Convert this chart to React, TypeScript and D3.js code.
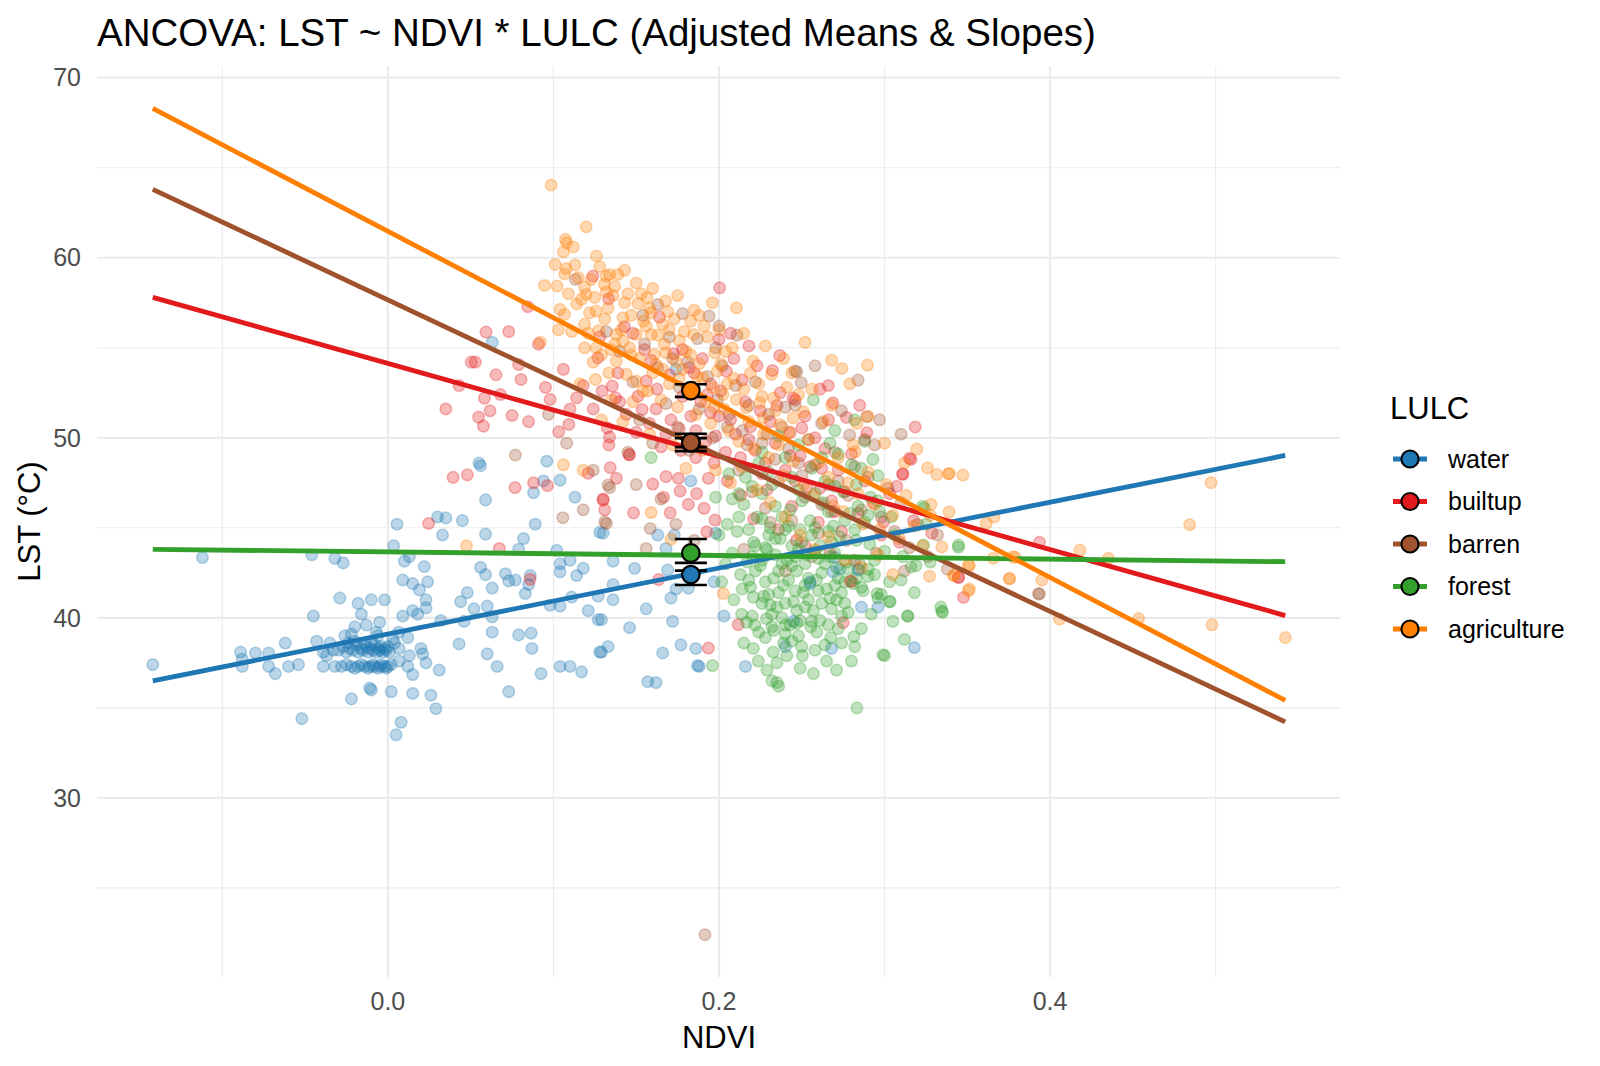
import * as d3 from "d3";

type Pt = [number, number];

// land use classes, in legend / drawing order
const classes = ["water", "builtup", "barren", "forest", "agriculture"];
const classColors = ["#1f78b4", "#e31a1c", "#a0522d", "#33a02c", "#ff7f00"];

// observed pixels: [NDVI, LST]
const waterPts: Pt[] = [
  [-0.142, 37.4], [-0.112, 43.35], [-0.089, 38.1], [-0.088, 37.7], [-0.088, 37.3], [-0.08, 38.05], [-0.072, 38.05], [-0.072, 37.3],
  [-0.068, 36.9], [-0.062, 38.6], [-0.06, 37.3], [-0.054, 37.4], [-0.052, 34.4], [-0.046, 43.5], [-0.045, 40.1], [-0.043, 38.7],
  [-0.039, 38.1], [-0.039, 37.3], [-0.032, 43.3], [-0.032, 37.3], [-0.029, 41.1], [-0.027, 43.05], [-0.022, 35.5], [-0.02, 39.5],
  [-0.018, 40.8], [-0.016, 40.2], [-0.01, 41.0], [-0.01, 36.0], [-0.011, 36.1], [-0.007, 39.2], [-0.005, 39.75], [-0.002, 41.0],
  [-0.022, 39.1], [0.002, 35.9], [0.005, 33.5], [0.008, 34.2], [0.0035, 44.0], [0.0055, 45.2], [0.009, 42.1], [0.01, 43.15],
  [0.013, 43.4], [0.015, 41.9], [0.019, 41.55], [0.022, 42.85], [0.024, 42.0], [0.023, 41.0], [0.023, 40.55], [0.018, 40.2],
  [0.015, 40.4], [0.009, 40.1], [0.0065, 39.2], [0.012, 38.9], [0.0067, 38.3], [0.02, 38.3], [0.021, 38.0], [0.013, 37.9],
  [0.0067, 37.6], [0.012, 37.3], [0.015, 36.85], [0.023, 37.5], [0.031, 37.1], [0.015, 35.8], [0.026, 35.7], [0.029, 34.95],
  [0.032, 39.85], [0.03, 45.6], [0.035, 45.55], [0.033, 44.6], [0.045, 45.4], [0.043, 38.55], [0.044, 40.9], [0.048, 41.4],
  [0.052, 40.5], [0.046, 39.8], [0.059, 46.55], [0.059, 44.65], [0.056, 42.8], [0.059, 42.4], [0.063, 41.65], [0.06, 40.65],
  [0.063, 40.05], [0.063, 39.2], [0.06, 38.0], [0.066, 37.3], [0.073, 35.9], [0.071, 42.45], [0.073, 42.05], [0.077, 42.1],
  [0.082, 44.4], [0.079, 43.8], [0.086, 42.35], [0.085, 41.85], [0.083, 41.35], [0.079, 39.05], [0.0865, 39.15], [0.087, 38.3],
  [0.0925, 36.9], [0.088, 46.95], [0.089, 45.2], [0.104, 37.3], [0.11, 37.3], [0.117, 37.0], [0.102, 43.75], [0.104, 43.0],
  [0.104, 42.55], [0.11, 43.2], [0.114, 42.35], [0.118, 42.75], [0.113, 46.7], [0.104, 47.65], [0.098, 40.7], [0.104, 40.65],
  [0.111, 41.15], [0.121, 40.4], [0.127, 39.9], [0.128, 44.75], [0.127, 41.2], [0.128, 38.1], [0.133, 38.4], [0.056, 48.45],
  [0.096, 48.7], [0.055, 48.6], [0.094, 47.6], [0.063, 55.3], [0.174, 53.8],
  [0.183, 47.6], [0.13, 44.7], [0.136, 43.15], [0.136, 41.85], [0.136, 41.0], [0.149, 42.75], [0.129, 39.9], [0.146, 39.45],
  [0.156, 40.5], [0.129, 38.1], [0.166, 38.05], [0.157, 36.45], [0.162, 36.4], [0.163, 44.6], [0.173, 44.6], [0.168, 43.85],
  [0.169, 42.65], [0.171, 41.1], [0.174, 41.6], [0.172, 39.8], [0.1815, 41.65], [0.186, 38.3], [0.188, 37.3], [0.198, 44.7],
  [0.197, 42.0], [0.203, 40.1], [0.245, 39.8], [0.255, 41.9], [0.268, 38.3], [0.273, 42.7], [0.2845, 42.7], [0.286, 40.6],
  [0.296, 40.6], [0.269, 42.55], [0.284, 42.65], [0.255, 42.0], [0.27, 43.35], [0.318, 38.35], [0.24, 38.4], [0.216, 37.3],
  [0.177, 38.5], [0.187, 37.35],
  [-0.03, 38.2], [-0.027, 38.4], [-0.025, 38.1], [-0.023, 38.3], [-0.021, 38.2], [-0.019, 38.5], [-0.018, 38.1], [-0.016, 38.3],
  [-0.015, 38.2], [-0.013, 38.4], [-0.012, 38.1], [-0.011, 38.3], [-0.009, 38.2], [-0.008, 38.5], [-0.007, 38.1], [-0.006, 38.3],
  [-0.005, 38.2], [-0.004, 38.4], [-0.003, 38.1], [-0.002, 38.3], [-0.001, 38.2], [0.0, 38.4], [0.001, 38.1], [-0.014, 38.6],
  [-0.01, 38.7], [-0.02, 38.7], [-0.024, 38.6],
  [-0.028, 37.3], [-0.025, 37.4], [-0.022, 37.3], [-0.02, 37.2], [-0.018, 37.3], [-0.016, 37.4], [-0.014, 37.3], [-0.012, 37.2],
  [-0.011, 37.3], [-0.009, 37.4], [-0.008, 37.3], [-0.006, 37.2], [-0.005, 37.3], [-0.004, 37.4], [-0.002, 37.3], [-0.001, 37.2],
  [0.0, 37.3], [0.002, 37.4], [-0.035, 38.6], [-0.033, 38.2], [-0.037, 37.9], [0.004, 38.6], [-0.026, 39.0], [-0.013, 39.6],
  [-0.006, 39.0], [0.003, 38.8],
];

const builtupPts: Pt[] = [
  [0.0246, 45.24], [0.0394, 47.8], [0.048, 47.94], [0.0768, 47.23], [0.088, 47.5], [0.0964, 47.34], [0.0673, 43.85], [0.0859, 42.14],
  [0.121, 48.03], [0.13, 46.6], [0.131, 46.0], [0.035, 51.6], [0.0504, 54.2], [0.2004, 58.33], [0.0845, 57.28], [0.0593, 55.87],
  [0.073, 55.9], [0.0528, 54.2], [0.0653, 53.5], [0.0804, 53.24], [0.079, 54.07], [0.0952, 52.8], [0.0583, 52.2], [0.0617, 51.5],
  [0.0548, 51.15], [0.0577, 50.65], [0.075, 51.24], [0.098, 52.13], [0.1032, 50.33], [0.1093, 50.74], [0.114, 52.22], [0.124, 51.6],
  [0.1294, 52.6], [0.1355, 52.87], [0.1268, 54.44], [0.1238, 58.98], [0.1333, 57.72], [0.1429, 56.17], [0.1375, 52.22], [0.14, 52.0],
  [0.1325, 50.55], [0.1339, 50.04], [0.1335, 49.6], [0.1456, 49.07], [0.1536, 51.57], [0.156, 53.15], [0.1625, 52.7], [0.1726, 54.67],
  [0.2, 55.46], [0.2181, 55.1], [0.2367, 54.57], [0.2323, 53.74], [0.2448, 52.2], [0.2044, 53.7], [0.165, 49.5],
  [0.146, 49.05], [0.1343, 48.34], [0.138, 47.75], [0.13, 46.54], [0.1484, 45.83], [0.16, 47.43], [0.168, 47.84], [0.1755, 47.75],
  [0.1665, 46.7], [0.1705, 45.83], [0.1765, 47.04], [0.1815, 46.3], [0.1865, 46.9], [0.191, 46.08], [0.1926, 44.78], [0.1976, 45.43],
  [0.1936, 47.75], [0.1635, 42.12], [0.1936, 38.32], [0.2116, 39.62], [0.275, 39.73], [0.2793, 42.03], [0.311, 47.97], [0.315, 48.86],
  [0.2468, 44.3],
  [0.3185, 50.6], [0.316, 48.8], [0.311, 48.0], [0.3074, 47.3], [0.266, 52.9], [0.261, 52.7], [0.246, 52.1], [0.2688, 51.94],
  [0.2662, 51.0], [0.277, 51.13], [0.285, 51.8], [0.2893, 50.28], [0.288, 49.9], [0.25, 50.55], [0.3175, 45.4], [0.3286, 44.7],
  [0.2994, 45.33], [0.28, 42.03], [0.3447, 42.24], [0.3477, 41.13], [0.3936, 44.19], [0.3446, 42.25],
  [0.15, 50.3], [0.158, 50.8], [0.162, 51.6], [0.168, 50.2], [0.171, 51.0], [0.176, 50.5], [0.178, 52.3], [0.183, 51.2],
  [0.186, 50.4], [0.189, 52.0], [0.192, 49.8], [0.195, 51.4], [0.198, 50.1], [0.201, 52.6], [0.204, 49.2], [0.207, 51.0],
  [0.21, 50.2], [0.213, 48.9], [0.216, 52.0], [0.219, 50.6], [0.222, 49.3], [0.225, 51.5], [0.228, 48.6], [0.231, 50.9],
  [0.234, 49.7], [0.237, 52.5], [0.24, 48.2], [0.243, 50.3], [0.246, 47.6], [0.249, 49.0], [0.252, 51.2], [0.255, 48.4],
  [0.258, 50.0], [0.261, 47.2], [0.264, 49.4], [0.268, 46.5], [0.272, 48.2], [0.276, 47.0], [0.28, 49.1], [0.284, 45.8],
  [0.288, 47.6], [0.293, 46.4], [0.298, 44.6], [0.303, 46.9], [0.309, 44.2], [0.213, 46.8], [0.221, 45.5], [0.229, 47.1],
  [0.236, 44.9], [0.244, 46.2], [0.252, 44.0], [0.26, 45.3], [0.267, 43.6], [0.274, 44.8], [0.282, 43.2], [0.205, 47.6],
  [0.197, 48.6], [0.186, 48.9], [0.177, 49.3], [0.182, 53.9], [0.19, 54.4], [0.207, 55.8], [0.214, 53.2], [0.223, 54.0],
  [0.195, 53.0], [0.17, 53.5], [0.159, 54.3], [0.151, 52.3], [0.144, 51.3], [0.139, 53.6], [0.128, 55.6], [0.118, 52.9],
  [0.11, 51.6], [0.106, 53.8], [0.085, 50.9], [0.091, 55.2], [0.068, 52.4], [0.043, 52.9],
  [0.148, 55.8], [0.155, 54.9], [0.164, 56.7], [0.178, 54.9], [0.185, 53.6], [0.193, 52.4], [0.2, 51.2], [0.209, 54.4],
  [0.218, 49.9], [0.226, 48.0], [0.235, 51.8], [0.243, 49.0], [0.253, 47.2], [0.262, 48.3], [0.27, 45.9],
];

const barrenPts: Pt[] = [
  [0.1133, 58.8], [0.194, 56.76], [0.2109, 55.7], [0.154, 56.8], [0.1319, 55.9], [0.077, 49.04], [0.2458, 53.7], [0.1057, 45.56],
  [0.132, 45.24], [0.133, 47.38], [0.134, 47.23], [0.131, 45.33], [0.1585, 44.96], [0.156, 43.85], [0.247, 53.67], [0.2497, 53.06],
  [0.2893, 51.17], [0.2789, 50.15], [0.393, 41.35], [0.1915, 22.4], [0.3935, 41.32],
  [0.14, 54.8], [0.148, 53.1], [0.155, 55.2], [0.163, 53.9], [0.17, 55.6], [0.176, 52.8], [0.181, 54.2], [0.187, 55.5],
  [0.193, 53.4], [0.199, 52.1], [0.202, 54.0], [0.206, 51.3], [0.21, 52.9], [0.214, 50.4], [0.218, 51.8], [0.222, 53.1],
  [0.226, 49.7], [0.23, 51.3], [0.234, 48.8], [0.238, 50.6], [0.242, 49.4], [0.246, 51.8], [0.25, 47.9], [0.254, 49.9],
  [0.258, 48.5], [0.262, 50.8], [0.266, 47.4], [0.27, 49.2], [0.274, 51.5], [0.278, 46.8], [0.282, 48.4], [0.286, 46.0],
  [0.29, 47.8], [0.294, 49.6], [0.298, 45.6], [0.302, 47.2], [0.306, 44.8], [0.31, 46.4], [0.315, 43.9], [0.32, 45.2],
  [0.326, 43.4], [0.332, 44.6], [0.338, 42.7], [0.212, 48.2], [0.22, 47.0], [0.228, 46.1], [0.236, 47.6], [0.244, 45.4],
  [0.252, 46.7], [0.26, 44.7], [0.268, 45.9], [0.196, 50.0], [0.188, 51.6], [0.182, 49.3], [0.175, 50.6], [0.168, 51.9],
  [0.16, 49.7], [0.152, 51.0], [0.145, 49.2], [0.165, 46.6], [0.174, 45.2], [0.185, 44.3], [0.15, 47.4], [0.124, 48.2],
  [0.118, 46.0], [0.163, 57.4], [0.178, 56.9], [0.2, 56.2], [0.258, 54.0], [0.284, 53.2], [0.297, 51.0], [0.31, 50.2],
  [0.231, 45.3], [0.256, 43.4], [0.277, 44.3], [0.295, 43.6], [0.312, 42.6], [0.24, 42.6], [0.215, 43.8], [0.097, 51.3],
  [0.108, 49.7], [0.172, 54.4], [0.184, 52.8], [0.198, 55.0], [0.205, 50.6], [0.217, 49.6], [0.229, 50.2], [0.24, 51.7],
  [0.248, 48.6], [0.262, 46.3], [0.272, 47.6],
];

const forestPts: Pt[] = [
  [0.159, 48.9], [0.293, 48.8], [0.296, 47.9], [0.323, 46.2], [0.2207, 41.15], [0.226, 40.8], [0.2137, 40.2], [0.2167, 39.75],
  [0.2217, 39.6], [0.2287, 39.95], [0.232, 39.5], [0.24, 39.6], [0.247, 39.7], [0.24, 39.1], [0.249, 39.85], [0.2554, 39.5],
  [0.259, 39.2], [0.261, 39.85], [0.2675, 38.9], [0.274, 40.1], [0.2815, 38.95], [0.282, 38.4], [0.299, 37.95], [0.314, 40.1],
  [0.303, 40.9], [0.303, 42.0], [0.2955, 41.35], [0.287, 41.5], [0.29, 42.3], [0.283, 42.2], [0.271, 41.0], [0.276, 40.8],
  [0.267, 41.1], [0.2207, 38.3], [0.2237, 37.6], [0.2327, 38.1], [0.235, 37.5], [0.25, 38.4], [0.2504, 37.9], [0.271, 37.1],
  [0.232, 36.5], [0.236, 36.2], [0.2833, 35.0], [0.196, 37.35], [0.2016, 42.0], [0.324, 46.1], [0.3235, 44.04], [0.316, 42.83],
  [0.319, 42.9], [0.3276, 43.1], [0.334, 40.6], [0.3346, 40.37], [0.314, 40.1], [0.3034, 40.9], [0.296, 41.1], [0.257, 52.1],
  [0.267, 49.7], [0.283, 47.4], [0.2915, 46.7], [0.3447, 44.04], [0.3446, 43.92], [0.335, 40.3],
  [0.205, 45.2], [0.208, 43.6], [0.211, 44.8], [0.213, 42.4], [0.215, 46.3], [0.217, 43.1], [0.219, 41.7], [0.221, 44.2],
  [0.223, 45.6], [0.225, 42.9], [0.227, 41.2], [0.229, 43.8], [0.231, 45.0], [0.233, 42.2], [0.235, 40.6], [0.237, 44.4],
  [0.239, 41.8], [0.241, 43.2], [0.243, 46.0], [0.245, 40.9], [0.247, 42.6], [0.249, 44.9], [0.251, 41.4], [0.253, 43.5],
  [0.255, 45.4], [0.257, 40.4], [0.259, 42.1], [0.261, 44.0], [0.263, 46.4], [0.265, 41.6], [0.267, 43.4], [0.269, 45.1],
  [0.271, 42.8], [0.273, 44.5], [0.275, 47.0], [0.277, 43.1], [0.279, 45.8], [0.281, 41.9], [0.283, 44.3], [0.285, 43.0],
  [0.288, 45.3], [0.291, 44.1], [0.294, 43.2], [0.297, 45.9], [0.3, 43.7], [0.306, 44.6], [0.311, 43.4], [0.216, 47.8],
  [0.224, 48.6], [0.232, 47.4], [0.24, 48.9], [0.248, 47.1], [0.256, 48.3], [0.264, 47.6], [0.272, 49.1], [0.28, 48.5],
  [0.288, 49.8], [0.22, 40.1], [0.228, 38.9], [0.238, 40.0], [0.244, 38.7], [0.252, 40.6], [0.258, 38.2], [0.266, 39.6],
  [0.274, 38.6], [0.209, 41.0], [0.204, 43.0], [0.2, 44.6], [0.198, 46.7], [0.206, 48.0], [0.212, 46.9], [0.226, 46.9],
  [0.234, 46.2], [0.242, 45.1], [0.25, 46.5], [0.258, 45.0], [0.266, 45.9], [0.238, 43.0], [0.244, 44.0], [0.23, 41.3],
  [0.236, 42.6], [0.246, 41.5], [0.254, 42.2], [0.262, 40.8], [0.27, 41.8], [0.278, 40.3], [0.286, 39.4], [0.292, 40.2],
  [0.228, 43.9], [0.222, 42.6], [0.218, 44.9], [0.248, 43.8], [0.256, 44.6], [0.264, 43.0], [0.272, 42.2], [0.233, 39.3],
  [0.241, 37.9], [0.249, 37.2], [0.257, 36.9], [0.265, 37.6], [0.229, 37.1], [0.215, 38.6], [0.262, 48.9], [0.248, 49.6],
  [0.236, 50.1], [0.226, 49.2], [0.27, 50.4], [0.282, 51.0], [0.24, 44.9], [0.252, 43.0], [0.26, 41.5], [0.243, 39.6],
  [0.234, 44.4], [0.226, 45.5], [0.247, 40.4], [0.239, 38.6], [0.231, 40.7], [0.22, 43.4], [0.214, 41.6], [0.268, 44.2],
  [0.276, 45.4], [0.284, 46.2], [0.29, 42.7], [0.298, 41.3], [0.305, 39.8], [0.312, 38.8], [0.235, 36.4], [0.3, 37.9],
  [0.222, 44.0], [0.226, 43.2], [0.23, 44.6], [0.234, 43.5], [0.238, 45.6], [0.242, 42.1], [0.246, 43.4], [0.25, 44.2],
  [0.254, 41.0], [0.258, 43.7], [0.262, 42.5], [0.266, 44.8], [0.27, 43.6], [0.274, 41.4], [0.278, 42.7], [0.282, 44.9],
  [0.286, 41.7], [0.29, 45.7], [0.294, 42.4], [0.236, 41.4], [0.244, 42.9], [0.252, 41.8], [0.26, 43.3], [0.268, 40.5],
  [0.276, 42.0], [0.228, 42.0], [0.232, 40.2], [0.24, 40.8], [0.248, 39.0], [0.256, 39.8], [0.264, 38.5], [0.272, 39.4],
  [0.28, 37.6], [0.224, 39.2], [0.218, 42.1], [0.212, 45.6], [0.208, 46.6], [0.22, 47.3], [0.23, 48.1], [0.244, 47.8],
  [0.258, 46.9], [0.27, 47.3], [0.286, 48.3], [0.296, 46.5], [0.304, 45.6], [0.31, 42.1], [0.318, 41.4], [0.325, 45.2],
];

const agriculturePts: Pt[] = [
  [0.0986, 64.04], [0.1198, 61.72], [0.1073, 61.02], [0.108, 60.83], [0.106, 60.33], [0.112, 60.6], [0.101, 59.63], [0.1077, 59.4],
  [0.1067, 59.1], [0.0946, 58.46], [0.1022, 58.43], [0.1188, 58.37], [0.1198, 57.96], [0.1228, 58.8], [0.1319, 58.98], [0.134, 59.07],
  [0.139, 59.07], [0.143, 59.3], [0.1308, 58.52], [0.1319, 58.1], [0.114, 57.44], [0.104, 57.13], [0.1067, 56.85], [0.1218, 56.94],
  [0.1258, 57.04], [0.143, 57.5], [0.151, 57.46], [0.1565, 57.78], [0.1677, 57.6], [0.142, 56.67], [0.1544, 56.48], [0.159, 56.94],
  [0.166, 56.3], [0.1274, 55.96], [0.138, 55.74], [0.1188, 56.3], [0.1188, 55.0], [0.0921, 55.31], [0.1258, 55.0], [0.1349, 54.9],
  [0.142, 55.37], [0.146, 55.0], [0.15, 55.74], [0.159, 55.74], [0.161, 54.63], [0.162, 54.07], [0.168, 54.72], [0.174, 54.26],
  [0.18, 54.8], [0.1829, 56.48], [0.1847, 55.74], [0.1974, 54.72], [0.204, 54.8], [0.2105, 57.22], [0.2206, 54.26], [0.2317, 53.52],
  [0.1254, 53.24], [0.1335, 53.6], [0.138, 54.26], [0.144, 53.52], [0.15, 53.15], [0.154, 52.59], [0.1903, 53.33], [0.1964, 52.78],
  [0.2024, 52.4], [0.2105, 52.13], [0.2165, 51.67], [0.2246, 51.94], [0.2266, 51.11], [0.2367, 50.74], [0.2448, 51.1],
  [0.16, 53.6], [0.165, 52.1], [0.17, 53.0], [0.175, 51.7], [0.178, 53.8], [0.182, 52.4], [0.186, 51.3], [0.188, 54.1],
  [0.192, 52.0], [0.195, 50.8], [0.199, 53.7], [0.203, 51.6], [0.206, 50.4], [0.209, 53.3], [0.212, 49.8], [0.215, 52.7],
  [0.218, 50.9], [0.221, 49.4], [0.224, 53.0], [0.227, 50.2], [0.23, 48.9], [0.233, 52.2], [0.236, 49.6], [0.239, 47.9],
  [0.242, 50.3], [0.245, 48.7], [0.248, 52.4], [0.251, 47.4], [0.254, 49.9], [0.257, 46.8], [0.26, 48.6], [0.263, 50.9],
  [0.266, 47.8], [0.269, 46.2], [0.272, 48.9], [0.275, 45.9], [0.278, 47.5], [0.281, 49.6], [0.284, 46.9], [0.287, 45.2],
  [0.29, 48.1], [0.294, 46.3], [0.297, 44.9], [0.301, 47.4], [0.305, 45.7], [0.309, 44.4], [0.313, 46.8], [0.318, 45.1],
  [0.323, 44.0], [0.328, 46.3], [0.17, 56.0], [0.176, 55.4], [0.188, 56.8], [0.193, 55.6], [0.2, 56.0], [0.215, 55.8],
  [0.196, 57.5], [0.185, 57.1], [0.175, 57.9], [0.16, 58.3], [0.15, 58.6], [0.128, 59.5], [0.115, 58.9], [0.111, 55.9],
  [0.131, 56.6], [0.152, 54.4], [0.167, 55.2], [0.156, 56.2], [0.145, 58.0], [0.124, 54.2], [0.116, 53.0], [0.103, 56.0],
  [0.135, 52.1], [0.142, 50.9], [0.129, 51.0], [0.148, 52.0], [0.158, 50.2], [0.172, 49.6], [0.18, 48.3], [0.19, 49.3],
  [0.198, 48.2], [0.207, 47.5], [0.214, 48.4], [0.223, 47.1], [0.231, 46.4], [0.24, 45.6], [0.249, 44.6], [0.258, 43.8],
  [0.266, 44.5], [0.276, 43.2], [0.286, 42.8], [0.296, 43.5], [0.305, 42.4], [0.244, 53.6], [0.256, 52.7], [0.268, 51.8],
  [0.279, 53.0], [0.29, 51.2], [0.3, 49.7], [0.312, 48.6], [0.228, 55.1], [0.239, 54.4], [0.252, 55.3],
  [0.268, 54.31], [0.2742, 53.85], [0.2897, 54.04], [0.251, 51.44], [0.2833, 50.8], [0.2823, 49.22], [0.3195, 49.37], [0.326, 48.33],
  [0.3316, 47.96], [0.3392, 48.02], [0.3473, 47.93], [0.339, 45.89], [0.3276, 45.7], [0.3614, 45.24], [0.3662, 45.6], [0.3346, 43.94],
  [0.3507, 42.93], [0.3272, 42.31], [0.3417, 42.37], [0.3513, 41.6], [0.3755, 42.19], [0.395, 42.1], [0.3775, 43.39], [0.418, 43.76],
  [0.4352, 43.3], [0.4057, 39.93], [0.3385, 48.0], [0.3657, 43.31], [0.3788, 43.36], [0.3512, 42.9], [0.342, 42.34], [0.3506, 41.51],
  [0.3754, 42.16], [0.4534, 39.96], [0.4843, 45.17], [0.4972, 47.51], [0.4978, 39.61], [0.5421, 38.9],
  [0.106, 48.5], [0.118, 48.2], [0.0475, 44.0], [0.159, 45.85], [0.171, 44.37], [0.2026, 41.35],
  [0.125, 57.8], [0.133, 57.2], [0.137, 58.4], [0.141, 56.0], [0.147, 56.8], [0.153, 58.0], [0.158, 57.2], [0.163, 55.7],
  [0.169, 57.0], [0.173, 56.6], [0.179, 55.9], [0.183, 54.6], [0.187, 53.4], [0.191, 56.2], [0.176, 53.3], [0.166, 53.8],
  [0.157, 52.6], [0.147, 54.6], [0.137, 55.2], [0.129, 54.6], [0.121, 55.8], [0.117, 57.7], [0.109, 58.0], [0.113, 59.6],
  [0.126, 60.1], [0.136, 57.9], [0.201, 54.1], [0.208, 55.0], [0.219, 53.6], [0.226, 52.3], [0.234, 51.5], [0.241, 52.8],
  [0.197, 51.7], [0.205, 53.0],
];

const pointSets = [waterPts, builtupPts, barrenPts, forestPts, agriculturePts];

// per-class regression of LST on NDVI
const fitIntercepts = [39.1, 54.13, 57.66, 43.66, 61.47];
const fitSlopes = [18.3, -25.84, -43.25, -1.0, -48.07];
const fitNdviRange: Pt = [-0.142, 0.542];

// adjusted means at the mean NDVI, with confidence limits
const meanNdvi = 0.183;
const adjMeans = [42.4, 49.72, 49.74, 43.6, 52.62];
const ciLow = [41.82, 49.48, 49.26, 43.05, 52.27];
const ciHigh = [42.62, 49.98, 50.22, 44.38, 52.97];

const xMajor = [0, 0.2, 0.4];
const xMinor = [-0.1, 0.1, 0.3, 0.5];
const yMajor = [30, 40, 50, 60, 70];
const yMinor = [25, 35, 45, 55, 65];

const FONT = "'Liberation Sans', Arial, Helvetica, sans-serif";

export default function App() {
  const width = 1600;
  const height = 1066;
  const panel = { left: 97, right: 1340, top: 66, bottom: 977 };

  const x = d3.scaleLinear().domain([-0.1757, 0.5751]).range([panel.left, panel.right]);
  const y = d3.scaleLinear().domain([20.05, 70.65]).range([panel.bottom, panel.top]);

  const fitLine = (i: number) =>
    d3.line<number>()
      .x(d => x(d))
      .y(d => y(fitIntercepts[i] + fitSlopes[i] * d))(fitNdviRange) ?? "";

  const whisker = 16;
  const legendX = 1390;
  const legendY0 = 459;
  const legendStep = 42.5;

  return (
    <svg width={width} height={height} style={{ position: "absolute", left: 0, top: 0, background: "#fff" }}
      fontFamily={FONT}>
      {/* grid */}
      <g stroke="#ebebeb" fill="none">
        {yMinor.map(v => (
          <line key={"ym" + v} x1={panel.left} x2={panel.right} y1={y(v)} y2={y(v)} strokeWidth={1.1} />
        ))}
        {xMinor.map(v => (
          <line key={"xm" + v} x1={x(v)} x2={x(v)} y1={panel.top} y2={panel.bottom} strokeWidth={1.1} />
        ))}
        {yMajor.map(v => (
          <line key={"yM" + v} x1={panel.left} x2={panel.right} y1={y(v)} y2={y(v)} strokeWidth={2.2} />
        ))}
        {xMajor.map(v => (
          <line key={"xM" + v} x1={x(v)} x2={x(v)} y1={panel.top} y2={panel.bottom} strokeWidth={2.2} />
        ))}
      </g>

      {/* observations */}
      {pointSets.map((pts, i) => (
        <g key={classes[i]} fill={classColors[i]} stroke={classColors[i]} fillOpacity={0.3} strokeOpacity={0.3}
          strokeWidth={1.5}>
          {pts.map((p, j) => (
            <circle key={j} cx={x(p[0])} cy={y(p[1])} r={5.8} />
          ))}
        </g>
      ))}

      {/* fitted slopes */}
      {classes.map((c, i) => (
        <path key={"fit" + c} d={fitLine(i)} stroke={classColors[i]} strokeWidth={4.8} fill="none" />
      ))}

      {/* adjusted means */}
      <g stroke="#000" strokeWidth={2.6} fill="none">
        {classes.map((c, i) => (
          <g key={"ci" + c}>
            <line x1={x(meanNdvi)} x2={x(meanNdvi)} y1={y(ciLow[i])} y2={y(ciHigh[i])} />
            <line x1={x(meanNdvi) - whisker} x2={x(meanNdvi) + whisker} y1={y(ciLow[i])} y2={y(ciLow[i])} />
            <line x1={x(meanNdvi) - whisker} x2={x(meanNdvi) + whisker} y1={y(ciHigh[i])} y2={y(ciHigh[i])} />
          </g>
        ))}
      </g>
      {classes.map((c, i) => (
        <circle key={"m" + c} cx={x(meanNdvi)} cy={y(adjMeans[i])} r={8.8} fill={classColors[i]} stroke="#000"
          strokeWidth={2.2} />
      ))}

      {/* axes text */}
      <g fill="#4d4d4d" fontSize={25}>
        {yMajor.map(v => (
          <text key={"yl" + v} x={81} y={y(v)} dy="0.35em" textAnchor="end">{v}</text>
        ))}
        {xMajor.map(v => (
          <text key={"xl" + v} x={x(v)} y={1010} textAnchor="middle">{d3.format(".1f")(v)}</text>
        ))}
      </g>
      <text x={x(0.2)} y={1048} textAnchor="middle" fontSize={31}>NDVI</text>
      <text transform={`translate(40, ${(panel.top + panel.bottom) / 2}) rotate(-90)`} textAnchor="middle"
        fontSize={31}>LST (°C)</text>
      <text x={panel.left} y={46} fontSize={38.5}>ANCOVA: LST ~ NDVI * LULC (Adjusted Means &amp; Slopes)</text>

      {/* legend */}
      <text x={legendX} y={419} fontSize={31}>LULC</text>
      {classes.map((c, i) => {
        const cy = legendY0 + i * legendStep;
        return (
          <g key={"lg" + c}>
            <line x1={legendX + 3} x2={legendX + 37} y1={cy} y2={cy} stroke={classColors[i]} strokeWidth={4.8} />
            <circle cx={legendX + 20} cy={cy} r={8.6} fill={classColors[i]} stroke="#000" strokeWidth={2} />
            <text x={legendX + 58} y={cy} dy="0.35em" fontSize={25}>{c}</text>
          </g>
        );
      })}
    </svg>
  );
}
